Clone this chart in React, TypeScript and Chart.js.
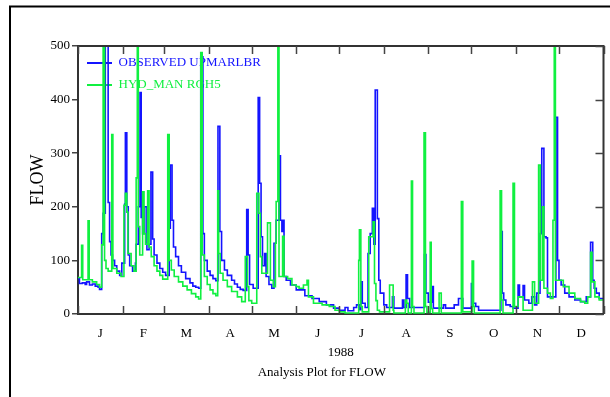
import React, { useEffect, useRef } from 'react';
import { Chart, registerables } from 'chart.js';

Chart.register(...registerables);

const monthLabels = ['J', 'F', 'M', 'A', 'M', 'J', 'J', 'A', 'S', 'O', 'N', 'D'];
const monthStarts = [0, 31, 60, 91, 121, 152, 182, 213, 244, 274, 305, 335, 366];
const yTickValues = [0, 100, 200, 300, 400, 500];
const yearLabel = '1988';
const captionText = 'Analysis Plot for FLOW';
const axisTitle = 'FLOW';
const observedName = 'OBSERVED UPMARLBR';
const simulatedName = 'HYD_MAN RGH5';

// day of year 1988 (0 = Jan 1) and daily flow
const observedDays = [
  0, 1, 3, 5, 6, 8, 10, 12, 14, 15, 16.5, 17.5, 19, 21, 22, 23, 24, 25.5, 27, 29,
  30.5, 32.5, 33, 34, 35, 36, 38, 40, 40.5, 42, 43.2, 44, 45, 46.5, 48, 49.5, 50.8, 52, 53, 55,
  57, 59, 61, 63.5, 64.3, 65.5, 66.5, 68, 70, 72, 75, 78, 80, 82, 84, 85.5, 87, 88, 90, 92,
  94, 96, 97.5, 98.8, 100, 102, 104, 107, 109, 111, 113, 115, 117.5, 118.5, 119.5, 122, 125.5, 126.5, 127.5, 128.5,
  130, 131, 133, 135, 136.5, 138, 140, 141, 142, 142.8, 143.5, 145, 148, 152, 158, 163, 168, 173, 178, 182,
  186, 188, 192, 194, 196, 197, 198, 200, 202, 203.5, 205, 206, 207, 208.5, 209.5, 210.5, 213, 215, 219, 220,
  226, 227, 228.5, 229.5, 231, 241.3, 242.3, 244, 246.5, 247.5, 254.5, 256, 262, 265, 268, 274, 275, 277, 279, 294.5,
  295.5, 296.5, 298, 301, 303, 306.5, 307.5, 310, 311, 314, 316, 318, 319.5, 321.8, 323, 324.5, 326, 327, 332.8, 334,
  335, 336.5, 339, 342, 346, 350, 354, 357, 358.5, 359.5, 361, 363, 366,
];
const observedFlow = [
  66, 57, 58, 55, 60, 54, 56, 52, 50, 46, 150, 188, 620, 208, 135, 110, 100, 90, 80, 72,
  95, 205, 338, 200, 110, 90, 80, 95, 130, 200, 413, 180, 150, 200, 120, 130, 265, 140, 110, 95,
  85, 78, 72, 160, 278, 175, 125, 107, 90, 78, 66, 58, 52, 50, 48, 480, 150, 100, 80, 72,
  66, 62, 350, 154, 100, 82, 72, 63, 56, 50, 46, 44, 195, 110, 55, 48, 404, 244, 144, 90,
  113, 70, 55, 48, 132, 175, 295, 175, 154, 175, 70, 63, 54, 45, 34, 29, 23, 17, 11, 7,
  12, 6, 12, 17, 8, 60, 20, 12, 113, 150, 197, 130, 418, 178, 63, 39, 17, 12, 32, 11,
  26, 12, 73, 29, 12, 111, 39, 22, 51, 11, 17, 11, 17, 29, 11, 57, 20, 14, 7, 154,
  39, 26, 17, 14, 11, 54, 32, 53, 26, 20, 32, 17, 39, 150, 309, 144, 142, 32, 367, 100,
  63, 54, 39, 32, 26, 23, 32, 134, 63, 48, 39, 29, 29,
];

const simulatedDays = [
  0, 2.5, 3.3, 7, 7.8, 10, 13, 15, 16.5, 17.5, 18.5, 19.5, 21, 23.5, 24.3, 27, 30, 32, 33, 34,
  34.8, 37, 39, 40.5, 41.3, 42, 43, 45, 46, 47, 48.5, 49.5, 51, 53, 55, 57, 59, 62.5, 63.5, 65,
  67, 70, 73, 76, 79, 82, 84, 85.5, 86.5, 88, 90, 92, 94, 96, 97.3, 98, 99, 101, 104, 107,
  111, 114, 116.5, 118, 119, 121, 124.5, 126, 127, 128, 132, 134, 136, 137.5, 138, 139.2, 140, 142.5, 143.5, 146,
  149, 152, 154, 157, 159.5, 160.5, 164, 170, 175, 179, 182, 186, 195.5, 196, 197, 198, 202.5, 205.5, 206.5, 207.5,
  208.5, 210, 217, 219.5, 220, 228, 229, 230, 232.2, 233, 234, 241, 242, 243, 245.3, 246, 247, 251.5, 253, 267,
  268, 274.5, 275.5, 276, 294, 295, 296, 303, 304, 306.5, 309, 310, 316.5, 318, 320.8, 322, 323.5, 324.5, 327, 329,
  330.8, 331.7, 332.5, 334, 338, 342, 346, 350, 353, 355, 357, 358, 360, 363, 366,
];
const simulatedFlow = [
  68, 128, 64, 174, 64, 60, 55, 50, 129, 560, 100, 85, 80, 335, 85, 76, 70, 203, 225, 190,
  113, 90, 80, 254, 560, 163, 110, 228, 150, 130, 230, 125, 107, 90, 80, 72, 65, 335, 100, 82,
  70, 60, 52, 45, 38, 32, 28, 488, 110, 70, 55, 45, 38, 34, 230, 113, 76, 63, 51, 42,
  32, 23, 107, 51, 25, 20, 225, 188, 107, 76, 170, 63, 51, 132, 210, 560, 70, 145, 70, 66,
  54, 51, 48, 54, 63, 32, 20, 17, 14, 7, 4, 2, 100, 157, 14, 4, 144, 172, 57, 25,
  7, 4, 54, 7, 2, 26, 20, 2, 248, 14, 2, 338, 14, 3, 134, 10, 2, 39, 2, 210,
  4, 99, 14, 2, 230, 26, 2, 244, 14, 32, 32, 7, 60, 20, 278, 63, 200, 48, 39, 29,
  175, 560, 63, 63, 51, 39, 29, 23, 20, 32, 115, 60, 32, 26, 26,
];

const FONT = '"Liberation Serif", "Times New Roman", serif';
const BLUE = '#1414ff';
const GREEN = '#10f040';

const decorPlugin = {
  id: 'decor',
  beforeDraw(chart: any) {
    const { ctx, width, height } = chart;
    ctx.save();
    ctx.fillStyle = '#ffffff';
    ctx.fillRect(0, 0, width, height);
    ctx.strokeStyle = '#000000';
    ctx.lineWidth = 2;
    ctx.beginPath();
    ctx.moveTo(10, height);
    ctx.lineTo(10, 6.5);
    ctx.lineTo(width, 6.5);
    ctx.stroke();
    ctx.restore();
  },
  afterDraw(chart: any) {
    const { ctx, chartArea: a, scales } = chart;
    const x = scales.x;
    const y = scales.y;
    ctx.save();
    ctx.strokeStyle = '#333333';
    ctx.lineWidth = 2;
    ctx.beginPath();
    ctx.moveTo(a.left, a.top);
    ctx.lineTo(a.right, a.top);
    ctx.lineTo(a.right, a.bottom);
    ctx.stroke();
    ctx.strokeStyle = '#444444';
    ctx.lineWidth = 1.5;
    ctx.beginPath();
    monthStarts.forEach((d) => {
      const px = Math.round(x.getPixelForValue(d)) + 0.5;
      ctx.moveTo(px, a.top);
      ctx.lineTo(px, a.top + 8);
      ctx.moveTo(px, a.bottom);
      ctx.lineTo(px, a.bottom - 8);
    });
    yTickValues.forEach((v) => {
      const py = Math.round(y.getPixelForValue(v)) + 0.5;
      ctx.moveTo(a.right, py);
      ctx.lineTo(a.right - 8, py);
    });
    ctx.stroke();
    ctx.fillStyle = '#000000';
    ctx.font = '13px ' + FONT;
    ctx.textAlign = 'center';
    ctx.textBaseline = 'middle';
    ctx.fillText(captionText, a.left + (a.right - a.left) * 0.464, a.bottom + 59);
    ctx.restore();
  },
};

export default function App() {
  const ref = useRef<HTMLCanvasElement>(null);

  useEffect(() => {
    document.body.style.margin = '0';
    const canvas = ref.current;
    if (!canvas) return;
    const monthMids = monthStarts.slice(0, 12).map((s, i) => (s + monthStarts[i + 1]) / 2);
    const chart = new Chart(canvas, {
      type: 'line',
      data: {
        datasets: [
          {
            label: observedName,
            data: observedDays.map((d, i) => ({ x: d, y: observedFlow[i] })),
            borderColor: BLUE,
            backgroundColor: BLUE,
            borderWidth: 1.6,
            pointRadius: 0,
            stepped: true,
            fill: false,
            order: 1,
          },
          {
            label: simulatedName,
            data: simulatedDays.map((d, i) => ({ x: d, y: simulatedFlow[i] })),
            borderColor: GREEN,
            backgroundColor: GREEN,
            borderWidth: 1.6,
            pointRadius: 0,
            stepped: true,
            fill: false,
            order: 0,
          },
        ],
      },
      options: {
        animation: false,
        responsive: false,
        devicePixelRatio: 1,
        layout: { padding: { left: 20, top: 46, right: 6.5, bottom: 0 } },
        plugins: {
          tooltip: { enabled: false },
          title: { display: false },
          legend: {
            position: 'chartArea',
            align: 'start',
            title: {
              display: true,
              text: ' ',
              padding: 0,
              font: { size: 10, lineHeight: 4.75 },
            },
            labels: {
              boxWidth: 25,
              boxHeight: 2,
              padding: 9,
              font: { family: FONT, size: 13 },
              generateLabels: (c: any) =>
                c.data.datasets.map((ds: any, i: number) => ({
                  text: ds.label,
                  fillStyle: ds.borderColor,
                  strokeStyle: ds.borderColor,
                  fontColor: ds.borderColor,
                  lineWidth: 0,
                  hidden: false,
                  datasetIndex: i,
                })),
            },
          },
        },
        scales: {
          x: {
            type: 'linear',
            min: 0,
            max: 366,
            afterFit: (s: any) => {
              s.height = 83;
            },
            afterBuildTicks: (s: any) => {
              s.ticks = monthMids.map((v) => ({ value: v }));
            },
            ticks: {
              autoSkip: false,
              maxRotation: 0,
              padding: 12,
              color: '#000',
              font: { family: FONT, size: 13 },
              callback: (_v: any, i: number) => monthLabels[i],
            },
            grid: { display: false, drawTicks: false },
            border: { display: true, color: '#333', width: 2 },
            title: {
              display: true,
              text: yearLabel,
              color: '#000',
              font: { family: FONT, size: 13 },
              padding: { top: 0, bottom: 37 },
            },
          },
          y: {
            type: 'linear',
            min: 0,
            max: 500,
            afterFit: (s: any) => {
              s.width = 58;
            },
            afterBuildTicks: (s: any) => {
              s.ticks = yTickValues.map((v) => ({ value: v }));
            },
            ticks: {
              padding: 2,
              color: '#000',
              font: { family: FONT, size: 13 },
            },
            grid: { drawOnChartArea: false, drawTicks: true, tickLength: 6, color: '#444', lineWidth: 1.5 },
            border: { display: true, color: '#333', width: 2 },
            title: {
              display: true,
              text: axisTitle,
              color: '#000',
              font: { family: FONT, size: 18 },
              padding: { top: 7, bottom: 0 },
            },
          },
        },
      },
      plugins: [decorPlugin],
    });
    return () => chart.destroy();
  }, []);

  return <canvas ref={ref} width={610} height={397} style={{ display: 'block' }} />;
}
